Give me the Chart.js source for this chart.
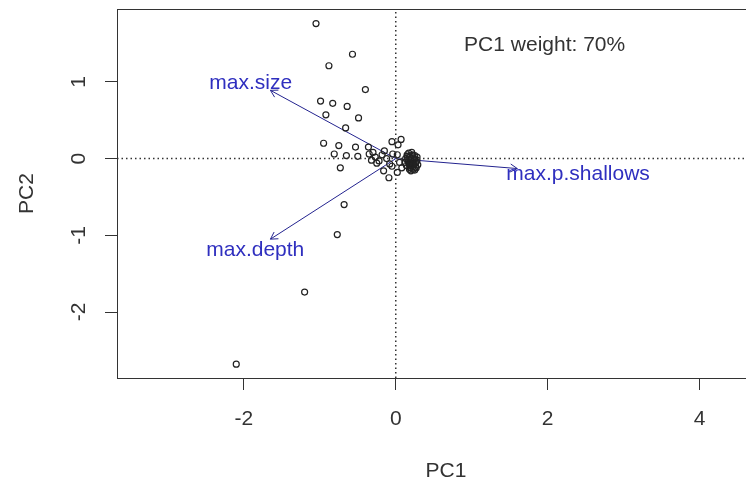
<!DOCTYPE html>
<html>
<head>
<meta charset="utf-8">
<script src="https://cdn.jsdelivr.net/npm/chart.js@4"></script>
<style>
  html, body { margin: 0; padding: 0; background: #fff; overflow: hidden; }
</style>
</head>
<body>
<canvas id="myChart" width="780" height="484"></canvas>
<script>
/* global Chart */

// scores (PC1, PC2)
const scoreX = [-1.05, -0.57, -0.88, -0.40, -0.99, -0.83, -0.64, -0.92, -0.49, -0.66,
  -0.95, -0.75, -0.53, -0.36, -0.05, 0.07, -0.81, -0.65, -0.50, -0.35,
  -0.73, -0.16, -0.09, 0.02, -0.04, -0.68, -0.77, -1.20, -2.10,
  -0.30, -0.27, -0.22, -0.18, -0.12, -0.08, -0.25, -0.15, -0.32, -0.05, 0.02, 0.05, 0.08, 0.03,
  0.15, 0.18, 0.22, 0.25, 0.16, 0.20, 0.24, 0.27, 0.14, 0.19, 0.23, 0.26, 0.17, 0.21, 0.28, 0.13,
  0.22, 0.18, 0.25, 0.29, 0.12, 0.20,
  0.16, 0.21, 0.26, 0.19, 0.24, 0.15, 0.22, 0.27, 0.18, 0.23, 0.20, 0.25, 0.17, 0.28, 0.21];
const scoreY = [1.76, 1.36, 1.21, 0.90, 0.75, 0.72, 0.68, 0.57, 0.53, 0.40,
  0.20, 0.17, 0.15, 0.15, 0.22, 0.25, 0.06, 0.04, 0.03, 0.06,
  -0.12, -0.16, -0.25, -0.18, 0.06, -0.60, -0.99, -1.74, -2.68,
  0.08, 0.02, -0.03, 0.05, 0.00, -0.07, -0.06, 0.10, -0.02, -0.10, 0.05, -0.05, -0.12, 0.18,
  0.05, 0.02, 0.04, 0.00, -0.03, -0.06, -0.08, -0.04, -0.09, -0.12, -0.14, -0.11, 0.07, 0.08, 0.02, 0.00,
  -0.02, -0.08, -0.15, -0.08, -0.05, 0.00,
  -0.01, -0.04, -0.06, -0.10, -0.01, 0.03, 0.05, -0.12, -0.14, -0.10, -0.16, 0.04, -0.06, -0.02, -0.08];

// loading arrows
const varNames = ["max.size", "max.depth", "max.p.shallows"];
const loadX = [-1.65, -1.65, 1.60];
const loadY = [0.89, -1.05, -0.13];
const labelX = [-1.91, -1.85, 2.40];
const labelY = [0.98, -1.20, -0.20];

const xTicks = [-2, 0, 2, 4];
const yTicks = [-2, -1, 0, 1];
const xMin = -3.67, xMax = 4.99;
const yMin = -2.86, yMax = 1.95;

const note = "PC1 weight: 70%";
const noteX = 1.96, noteY = 1.48;

const arrowColor = "#23238f";
const labelColor = "#2f2fbf";
const inkColor = "#333333";

const points = scoreX.map((x, i) => ({ x: x, y: scoreY[i] }));

const arrowSets = varNames.map((name, i) => ({
  type: "line",
  label: name,
  isArrow: true,
  data: [{ x: 0, y: 0 }, { x: loadX[i], y: loadY[i] }],
  borderColor: arrowColor,
  borderWidth: 1,
  pointRadius: 0,
  fill: false,
}));

// box, arrowheads and text labels
const extras = {
  id: "extras",
  afterDatasetsDraw(chart) {
    const ctx = chart.ctx;
    const a = chart.chartArea;
    const xs = chart.scales.x, ys = chart.scales.y;
    ctx.save();
    ctx.strokeStyle = inkColor;
    ctx.lineWidth = 1;
    ctx.strokeRect(a.left + 0.5, a.top + 0.5, a.right - a.left, a.bottom - a.top);

    chart.data.datasets.forEach((ds, i) => {
      if (!ds.isArrow) return;
      const pts = chart.getDatasetMeta(i).data;
      const p0 = pts[0], p1 = pts[1];
      const ang = Math.atan2(p1.y - p0.y, p1.x - p0.x);
      const len = 8;
      ctx.strokeStyle = arrowColor;
      ctx.beginPath();
      ctx.moveTo(p1.x - len * Math.cos(ang - Math.PI / 6), p1.y - len * Math.sin(ang - Math.PI / 6));
      ctx.lineTo(p1.x, p1.y);
      ctx.lineTo(p1.x - len * Math.cos(ang + Math.PI / 6), p1.y - len * Math.sin(ang + Math.PI / 6));
      ctx.stroke();
    });

    ctx.font = "21px 'Liberation Sans', Arial, sans-serif";
    ctx.textAlign = "center";
    ctx.textBaseline = "middle";
    ctx.fillStyle = labelColor;
    varNames.forEach((name, i) => {
      ctx.fillText(name, xs.getPixelForValue(labelX[i]), ys.getPixelForValue(labelY[i]));
    });
    ctx.fillStyle = inkColor;
    ctx.fillText(note, xs.getPixelForValue(noteX), ys.getPixelForValue(noteY));
    ctx.restore();
  },
};

const tickFont = { family: "'Liberation Sans', Arial, sans-serif", size: 21 };

const ctx = document.getElementById("myChart").getContext("2d");
const myChart = new Chart(ctx, {
  type: "scatter",
  data: {
    datasets: [
      {
        type: "line",
        label: "h0",
        data: [{ x: xMin, y: 0 }, { x: xMax, y: 0 }],
        borderColor: inkColor,
        borderWidth: 1.5,
        borderDash: [1.5, 3],
        pointRadius: 0,
      },
      {
        type: "line",
        label: "v0",
        data: [{ x: 0, y: yMin }, { x: 0, y: yMax }],
        borderColor: inkColor,
        borderWidth: 1.5,
        borderDash: [1.5, 3],
        pointRadius: 0,
      },
      {
        label: "scores",
        data: points,
        pointStyle: "circle",
        pointRadius: 3,
        borderWidth: 1.2,
        borderColor: "#222",
        backgroundColor: "rgba(255,255,255,0)",
      },
      ...arrowSets,
    ],
  },
  options: {
    responsive: false,
    animation: false,
    layout: { padding: { top: 9, left: 0, right: 0, bottom: 0 } },
    plugins: {
      legend: { display: false },
      tooltip: { enabled: false },
    },
    scales: {
      x: {
        type: "linear",
        min: xMin,
        max: xMax,
        afterBuildTicks: (s) => { s.ticks = xTicks.map((v) => ({ value: v })); },
        afterFit: (s) => { s.height = 106; s.paddingLeft = 0; s.paddingRight = 0; },
        grid: { drawOnChartArea: false, drawTicks: true, tickLength: 12, color: inkColor },
        border: { display: true, color: inkColor },
        ticks: { color: inkColor, font: tickFont, padding: 17, callback: (v) => String(v) },
        title: { display: true, text: "PC1", color: inkColor, font: tickFont, padding: { top: 0, bottom: 0 } },
      },
      y: {
        type: "linear",
        min: yMin,
        max: yMax,
        afterBuildTicks: (s) => { s.ticks = yTicks.map((v) => ({ value: v })); },
        afterFit: (s) => { s.width = 117; s.paddingTop = 0; s.paddingBottom = 0; },
        grid: { drawOnChartArea: false, drawTicks: true, tickLength: 12, color: inkColor },
        border: { display: true, color: inkColor },
        ticks: {
          color: inkColor, font: tickFont, padding: 16,
          minRotation: 90, maxRotation: 90, crossAlign: "center",
          callback: (v) => String(v),
        },
        title: { display: true, text: "PC2", color: inkColor, font: tickFont, padding: { top: 15, bottom: 0 } },
      },
    },
  },
  plugins: [extras],
});
</script>
</body>
</html>
